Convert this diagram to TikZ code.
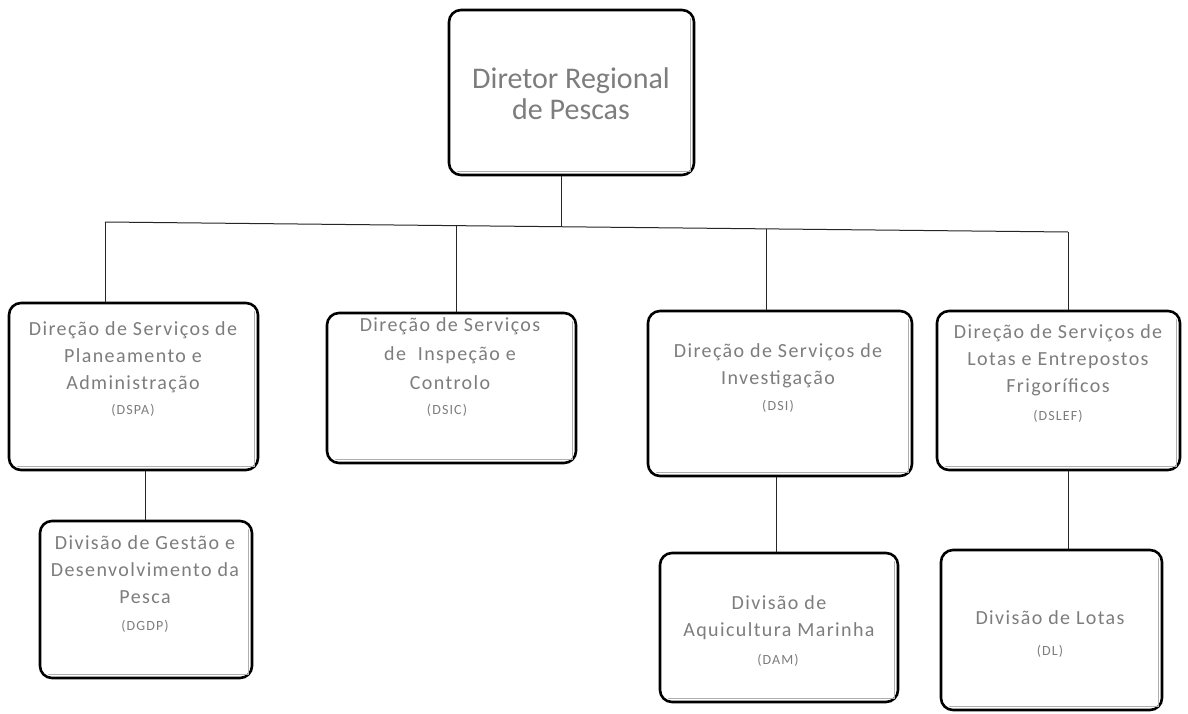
\documentclass[tikz,border=0pt]{standalone}
\usepackage{fontspec}
\setmainfont{Carlito}
\definecolor{txtgray}{RGB}{125,125,125}
\definecolor{edgegray}{RGB}{175,175,175}
\begin{document}
\begin{tikzpicture}[x=1pt,y=-1pt,
  box/.style={draw=black, line width=2.6pt, rounded corners=12pt, fill=white, inner sep=0pt},
  title/.style={text=txtgray, align=center, font=\fontsize{20}{27}\selectfont\addfontfeature{LetterSpace=7}},
  abbr/.style={text=txtgray, font=\fontsize{14}{15}\selectfont\addfontfeature{LetterSpace=8}},
  conn/.style={draw=black!85, line width=1pt}
]
\useasboundingbox[fill=white] (0,0) rectangle (1188,714);

\coordinate (j0) at (561,227);
\coordinate (j1) at (105,222);
\coordinate (j2) at (456,226);
\coordinate (j3) at (766,229);
\coordinate (j4) at (1068,232);

% boxes
\node[box, minimum width=245, minimum height=165] (top) at (571.5,92.5) {};
\node[box, minimum width=249, minimum height=167] (dspa) at (133.5,386.5) {};
\node[box, minimum width=249, minimum height=150] (dsic) at (451.5,388) {};
\node[box, minimum width=264, minimum height=165] (dsi) at (780,393.5) {};
\node[box, minimum width=243, minimum height=159] (dslef) at (1058.5,390.5) {};
\node[box, minimum width=212, minimum height=157] (dgdp) at (146,599.5) {};
\node[box, minimum width=238, minimum height=149] (dam) at (779,627.5) {};
\node[box, minimum width=221, minimum height=160] (dl) at (1051.5,630) {};

% inner light edge lines
\foreach \n in {top,dspa,dsic,dsi,dslef,dgdp,dam,dl}{
  \draw[draw=edgegray, line width=1.3pt, line cap=round]
    ([xshift=10pt,yshift=5pt]\n.south west) -- ([xshift=-5pt,yshift=5pt]\n.south east)
    -- ([xshift=-5pt,yshift=-10pt]\n.north east);
}

\draw[conn] (top.south -| j0) -- (j0);
\draw[conn] (j1) -- (j4);
\draw[conn] (j1) -- (dspa.north -| j1);
\draw[conn] (j2) -- (dsic.north -| j2);
\draw[conn] (j3) -- (dsi.north -| j3);
\draw[conn] (j4) -- (dslef.north -| j4);
\coordinate (k1) at (145,0);
\coordinate (k2) at (776,0);
\coordinate (k3) at (1068,0);
\draw[conn] (dspa.south -| k1) -- (dgdp.north -| k1);
\draw[conn] (dsi.south -| k2) -- (dam.north -| k2);
\draw[conn] (dslef.south -| k3) -- (dl.north -| k3);

% texts
\node[text=txtgray, align=center, font=\fontsize{30}{31}\selectfont] (ttop) at (571,94) {Diretor Regional\\de Pescas};

\node[title] (tdspa) at (133,357) {Direção de Serviços de\\Planeamento e\\Administração};
\node[abbr] (adspa) at (133,410) {(DSPA)};

\node[title, font=\fontsize{20}{29}\selectfont\addfontfeature{LetterSpace=7}] (tdsic) at (450,354) {Direção de Serviços\\de\ \ Inspeção e\\Controlo};
\node[abbr] (adsic) at (447,410) {(DSIC)};

\node[title] (tdsi) at (778,366) {Direção de Serviços de\\Investigação};
\node[abbr] (adsi) at (778,406) {(DSI)};

\node[title] (tdslef) at (1058,360.5) {Direção de Serviços de\\Lotas e Entrepostos\\Frigoríficos};
\node[abbr] (adslef) at (1058,416) {(DSLEF)};

\node[title] (tdgdp) at (145,570) {Divisão de Gestão e\\Desenvolvimento da\\Pesca};
\node[abbr] (adgdp) at (145,626) {(DGDP)};

\node[title] (tdam) at (779,618) {Divisão de\\Aquicultura Marinha};
\node[abbr] (adam) at (778,660) {(DAM)};

\node[title] (tdl) at (1050,618) {Divisão de Lotas};
\node[abbr] (adl) at (1050,651) {(DL)};
\end{tikzpicture}
\end{document}
